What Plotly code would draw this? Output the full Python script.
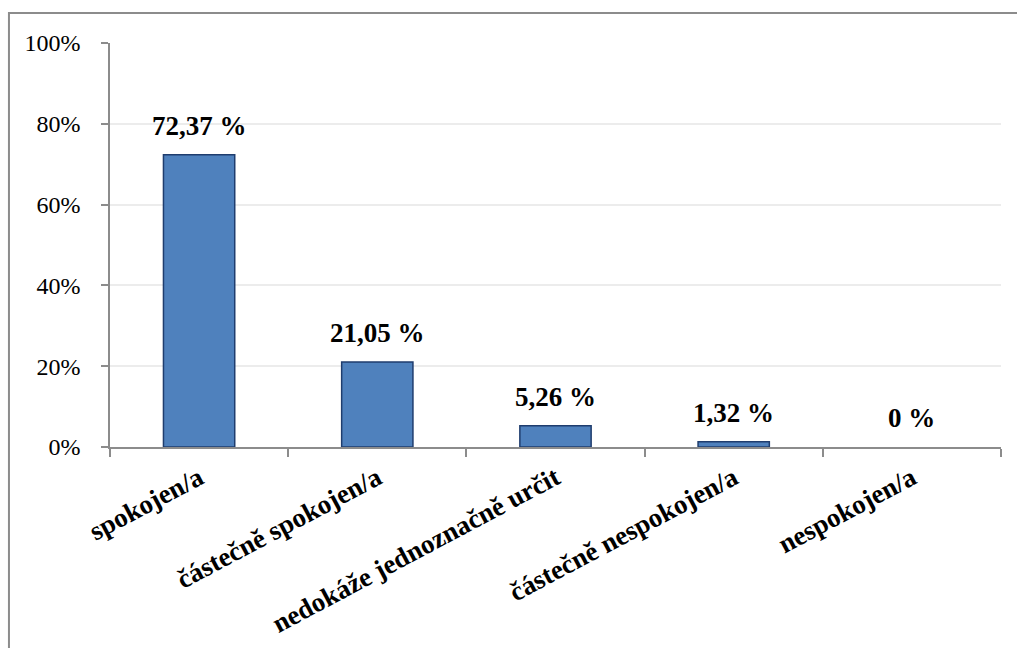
import plotly.graph_objects as go

categories = [
    "spokojen/a",
    "částečně spokojen/a",
    "nedokáže jednoznačně určit",
    "částečně nespokojen/a",
    "nespokojen/a",
]
shares_pct = [72.37, 21.05, 5.26, 1.32, 0.0]
y_tickvals = [0, 0.2, 0.4, 0.6, 0.8, 1.0]
y_ticktext = ["0%", "20%", "40%", "60%", "80%", "100%"]

SERIF = "Times New Roman"
AXIS_GREY = "#8C8C8C"


def fmt_label(v):
    if v == 0:
        return "0 %"
    return f"{v:.2f}".replace(".", ",") + " %"


fractions = [v / 100 for v in shares_pct]
outline_widths = [1.5 if v > 0 else 0 for v in shares_pct]

fig = go.Figure(
    go.Bar(
        x=categories,
        y=fractions,
        width=0.4,
        marker=dict(color="#4F81BD", line=dict(color="#1F3D6E", width=outline_widths)),
        hoverinfo="skip",
    )
)

for cat, v, f in zip(categories, shares_pct, fractions):
    fig.add_annotation(
        x=cat, y=f, xref="x", yref="y",
        text=f"<b>{fmt_label(v)}</b>",
        showarrow=False, yanchor="bottom", yshift=12,
        font=dict(family=SERIF, size=27, color="black"),
    )

# outer chart frame (only top and left edges fall inside the canvas)
fig.add_shape(
    type="rect", xref="paper", yref="paper",
    x0=-0.1134, x1=1.2, y0=-1.0, y1=1.0743,
    line=dict(color=AXIS_GREY, width=2), fillcolor="rgba(0,0,0,0)",
    layer="below",
)

fig.update_layout(
    width=1017, height=648,
    margin=dict(l=110, r=16, t=43, b=201),
    paper_bgcolor="white", plot_bgcolor="white",
    showlegend=False,
    xaxis=dict(
        type="category",
        automargin=False,
        showline=True, linecolor=AXIS_GREY, linewidth=1.5,
        ticks="outside", tickson="boundaries", ticklen=8,
        tickcolor=AXIS_GREY, tickwidth=1.5,
        tickangle=-28,
        tickfont=dict(family=SERIF, size=27, color="black"),
        ticklabelstandoff=3,
        showgrid=False,
        tickprefix="<b>", ticksuffix="</b>",
    ),
    yaxis=dict(
        range=[0, 1],
        automargin=False,
        tickvals=y_tickvals, ticktext=y_ticktext,
        showline=True, linecolor=AXIS_GREY, linewidth=1.5,
        ticks="outside", ticklen=7, tickcolor=AXIS_GREY, tickwidth=1.5,
        ticklabelstandoff=16,
        tickfont=dict(family=SERIF, size=24, color="black"),
        showgrid=True, gridcolor="#ECECEC", gridwidth=1.5,
        zeroline=False,
    ),
)

fig.write_html("out.html")
